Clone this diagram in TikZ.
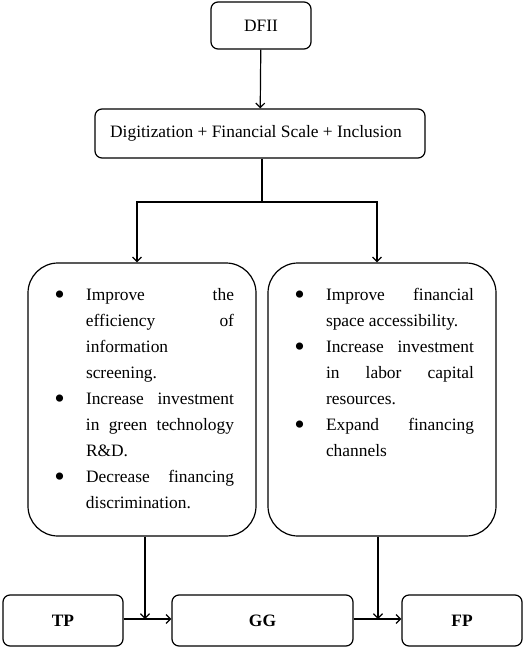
\documentclass[tikz,border=0pt]{standalone}
\usepackage{fontspec}
\setmainfont{Liberation Serif}
\usepackage{tikz}
\usetikzlibrary{calc}
\usetikzlibrary{positioning}
\usetikzlibrary{arrows.meta}

\newcommand{\bigdot}{\raisebox{-4.5pt}{\fontsize{30}{30}\selectfont\textbullet}}
\newenvironment{effects}{%
	\begin{list}{\bigdot}{%
		\setlength{\leftmargin}{36pt}%
		\setlength{\labelwidth}{12pt}%
		\setlength{\labelsep}{21pt}%
		\setlength{\itemsep}{0pt}%
		\setlength{\parsep}{0pt}%
		\setlength{\topsep}{0pt}%
		\setlength{\partopsep}{0pt}}%
	\hyphenpenalty=10000}{\end{list}}

\begin{document}
\begin{tikzpicture}
		[x=1pt, y=-1pt,
		line width=1.2pt,
		every node/.style={font=\fontsize{17.4}{26}\selectfont},
  		> = {Straight Barb[length=4.5pt,width=9pt]},
  		box/.style = {draw, rounded corners=7pt, inner sep=0pt, align=center},
  		bigbox/.style = {draw, rounded corners=30pt, inner sep=0pt, minimum width=228pt, minimum height=273pt}
		]
		\useasboundingbox (0,0) rectangle (526,649);

		% top of the chain
		\node[box, minimum width=100pt, minimum height=47pt] (dfii) at (261,25.5) {DFII};
		\node[box, minimum width=330pt, minimum height=49pt] (dims) at (260,133.5) {Digitization + Financial Scale + Inclusion\hspace{8pt}};

		% the two channels
		\node[bigbox] (tech) at (142,399.5) {%
			\begin{minipage}[c][223pt][t]{184pt}
			\begin{effects}
				\item Improve the\linebreak efficiency of\linebreak information\linebreak screening.
				\item Increase investment\linebreak in green technology\linebreak R\&D.
				\item Decrease financing\linebreak discrimination.
			\end{effects}
			\end{minipage}};
		\node[bigbox] (fin) at (382,399.5) {%
			\begin{minipage}[c][223pt][t]{184pt}
			\begin{effects}
				\item Improve financial\linebreak space accessibility.
				\item Increase investment\linebreak in labor capital\linebreak resources.
				\item Expand financing\linebreak channels
			\end{effects}
			\end{minipage}};

		% bottom row
		\node[box, minimum width=120pt, minimum height=51pt, font=\fontsize{17.4}{26}\selectfont\bfseries] (tp) at (63,620.5) {TP};
		\node[box, minimum width=181pt, minimum height=51pt, font=\fontsize{17.4}{26}\selectfont\bfseries] (gg) at (262.5,620.5) {GG};
		\node[box, minimum width=120pt, minimum height=51pt, font=\fontsize{17.4}{26}\selectfont\bfseries] (fp) at (462,620.5) {FP};

		\coordinate (split) at (262,202);
		\coordinate (hitA) at (145,619);
		\coordinate (hitB) at (378,619);

		\draw[->] (dfii) -- (dims);
		\draw (dims.south -| split) -- (split);
		\draw[->] (split) -| (tech.north -| 137,0);
		\draw[->] (split) -| (fin.north -| 377,0);

		\draw[->] (tp.east |- hitA) -- (gg.west |- hitA);
		\draw[->] (gg.east |- hitB) -- (fp.west |- hitB);
		\draw[->] (tech.south -| hitA) -- (hitA);
		\draw[->] (fin.south -| hitB) -- (hitB);
	\end{tikzpicture}
\end{document}
